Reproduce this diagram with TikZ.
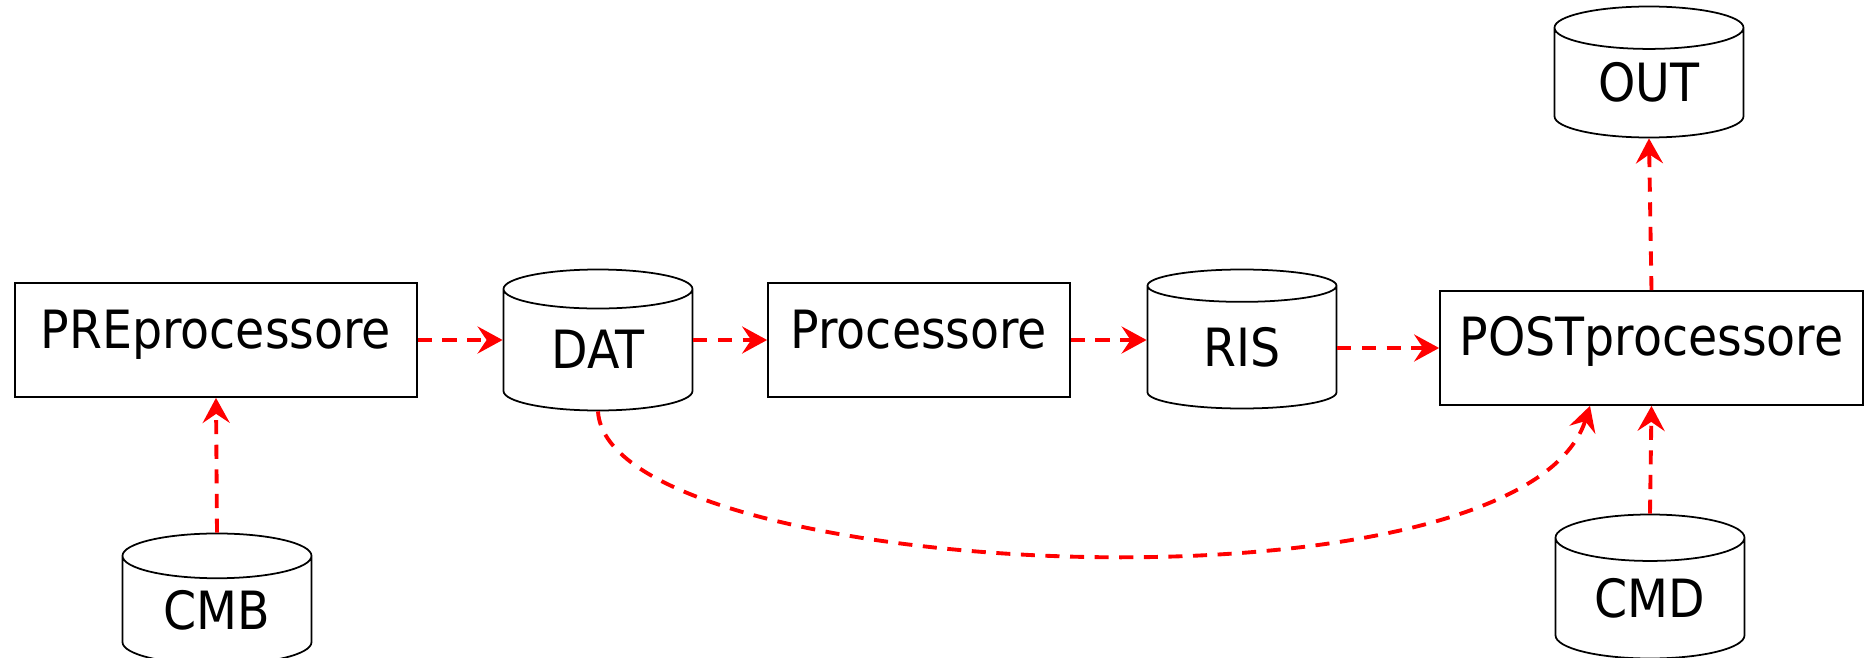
\documentclass[tikz,border=0pt]{standalone}
\usepackage{fontspec}
\setmainfont{DejaVu Sans Condensed}
\usetikzlibrary{arrows.meta, shapes.geometric, positioning, calc}

\begin{document}
\begin{tikzpicture}[>={Stealth[length=2.5mm,width=2.7mm,inset=0.9mm]},
         font=\fontsize{15}{18}\selectfont,
         proc/.style={draw,line width=0.5pt,rectangle,inner sep=0pt,
            text height=0.65cm,text depth=0.49cm},
         store/.style={draw,line width=0.5pt,cylinder,shape border rotate=90,
            aspect=0.42,inner sep=0pt,text height=0.5cm,text depth=0.13cm,
            minimum width=1.89cm,anchor=shape center},
         flow/.style={->,red,line width=1.1pt,dash pattern=on 4pt off 3pt}]
   \useasboundingbox (0,0) rectangle (18.75,-6.58);
   % processes
   \node [proc,minimum width=4.02cm] (pre) at (2.16,-3.40) {PREprocessore};
   \node [proc,minimum width=3.02cm] (proc) at (9.19,-3.40) {Processore};
   \node [proc,minimum width=4.23cm] (post) at (16.515,-3.48) {POSTprocessore};
   % data files
   \node [store,minimum height=1.41cm] (dat) at (5.98,-3.40) {DAT};
   \node [store,minimum height=1.39cm] (ris) at (12.42,-3.39) {RIS};
   \node [store,minimum height=1.31cm] (out) at (16.49,-0.72) {OUT};
   \node [store,minimum height=1.27cm] (cmb) at (2.17,-5.99) {CMB};
   \node [store,minimum height=1.44cm] (cmd) at (16.50,-5.865) {CMD};
   % flows
   \draw [flow] (pre.east) -- (pre.east -| dat.west);
   \draw [flow] (dat.east |- proc.west) -- (proc.west);
   \draw [flow] (proc.east) -- (proc.east -| ris.west);
   \draw [flow] (ris.east |- post.west) -- (post.west);
   \draw [flow] (post.north) -- (out.south);
   \draw [flow] (cmb.north) -- (pre.south);
   \draw [flow] (cmd.north) -- (post.south);
   \draw [flow] (dat.south) .. controls +(0.1,-1.7) and +(-0.7,-2.2) .. ([xshift=-6.15mm]post.south);
\end{tikzpicture}
\end{document}
